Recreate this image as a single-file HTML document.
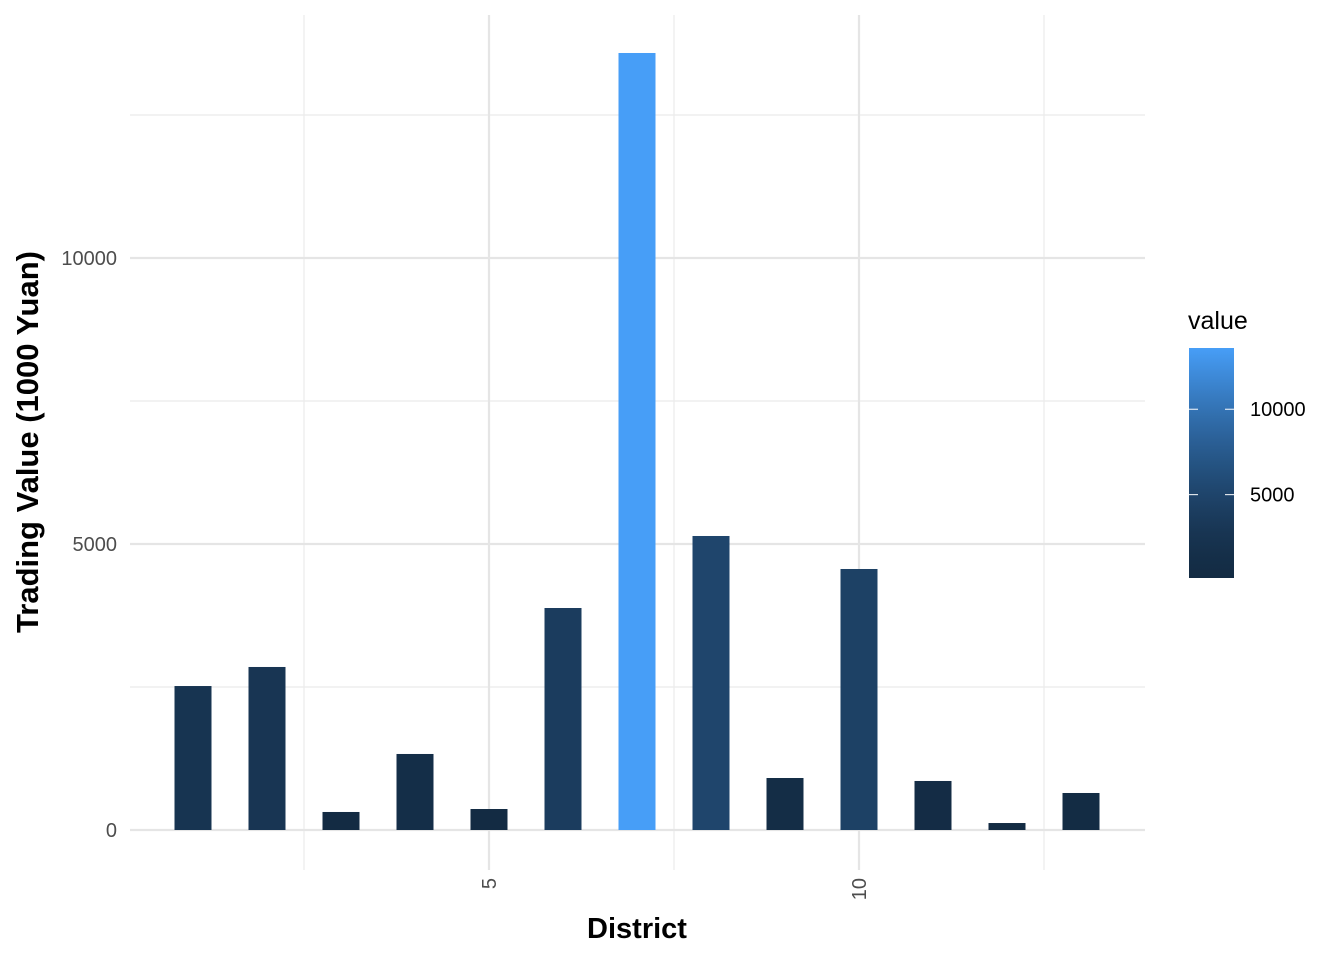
<!DOCTYPE html>
<html><head><meta charset="utf-8"><style>
body{margin:0;background:#fff}
svg{font-family:"Liberation Sans",Arial,sans-serif}
</style></head><body>
<svg id="chart" width="1344" height="960" viewBox="0 0 1344 960">
<defs><linearGradient id="grad" x1="0" y1="1" x2="0" y2="0"></linearGradient></defs>
<g id="grid"></g>
<g id="bars"></g>
<g id="axes"></g>
<text x="637" y="938" text-anchor="middle" font-size="29" font-weight="bold">District</text>
<text transform="translate(38,442) rotate(-90)" text-anchor="middle" font-size="31" font-weight="bold">Trading Value (1000 Yuan)</text>
<g>
<text x="1188" y="329" font-size="25">value</text>
<rect x="1189" y="348" width="45" height="230" fill="url(#grad)"/>
<g id="legendticks"></g>
</g>
</svg>
<script>
const districts=[1,2,3,4,5,6,7,8,9,10,11,12,13];
const values=[2517,2850,315,1329,367,3881,13584,5140,909,4563,857,122,647];
const yMajor=[0,5000,10000];
const yMinor=[2500,7500,12500];
const xMajor=[5,10];
const xMinor=[2.5,7.5,12.5];
const legendTicks=[5000,10000];
const NS="http://www.w3.org/2000/svg";
const xS=d=>489+(d-5)*74;
const yS=v=>830-v*0.0572;
const vmin=Math.min(...values),vmax=Math.max(...values);
function colT(t){const a=[0x13,0x2B,0x43],b=[0x47,0x9E,0xF7];const u=Math.pow(t,1.5);
return "rgb("+a.map((c,i)=>Math.round(c+(b[i]-c)*u)).join(",")+")";}
function col(v){return colT((v-vmin)/(vmax-vmin));}
function mk(tag,attrs,parent){const e=document.createElementNS(NS,tag);for(const k in attrs)e.setAttribute(k,attrs[k]);parent.appendChild(e);return e;}
const gr=document.getElementById('grad');
for(let i=0;i<=10;i++){mk('stop',{offset:i/10,'stop-color':colT(i/10)},gr);}
const grid=document.getElementById('grid'),bars=document.getElementById('bars'),axes=document.getElementById('axes');
yMinor.forEach(v=>{const l=mk('line',{x1:130,x2:1145,y1:yS(v),y2:yS(v),stroke:'#ebebeb','stroke-width':1.2},grid);

});
xMinor.forEach(d=>{const l=mk('line',{x1:xS(d),x2:xS(d),y1:15,y2:870,stroke:'#ebebeb','stroke-width':1.2},grid);

});
yMajor.forEach(v=>{const l=mk('line',{x1:130,x2:1145,y1:yS(v),y2:yS(v),stroke:'#e5e5e5','stroke-width':2.2},grid);


const t=mk('text',{x:117,y:yS(v)+7,'text-anchor':'end','font-size':20,fill:'#4d4d4d'},axes);t.textContent=v;

});
xMajor.forEach(d=>{const l=mk('line',{x1:xS(d),x2:xS(d),y1:15,y2:870,stroke:'#e5e5e5','stroke-width':2.2},grid);


const t=mk('text',{transform:`translate(${xS(d)+7},${878}) rotate(-90)`,'text-anchor':'end','font-size':20,fill:'#4d4d4d'},axes);t.textContent=d;

});
districts.forEach((d,i)=>{const v=values[i];const r=mk('rect',{x:xS(d)-18.5,y:yS(v),width:37,height:yS(0)-yS(v),fill:col(v)},bars);

});
const lt=document.getElementById('legendticks');
legendTicks.forEach(v=>{const y=578-(v-vmin)/(vmax-vmin)*230;
mk('line',{x1:1189,x2:1198,y1:y,y2:y,stroke:'#fff','stroke-width':1},lt);
mk('line',{x1:1225,x2:1234,y1:y,y2:y,stroke:'#fff','stroke-width':1},lt);
const t=mk('text',{x:1250,y:y+7,'font-size':20,fill:'#000'},lt);t.textContent=v;

});
</script>
</body></html>
